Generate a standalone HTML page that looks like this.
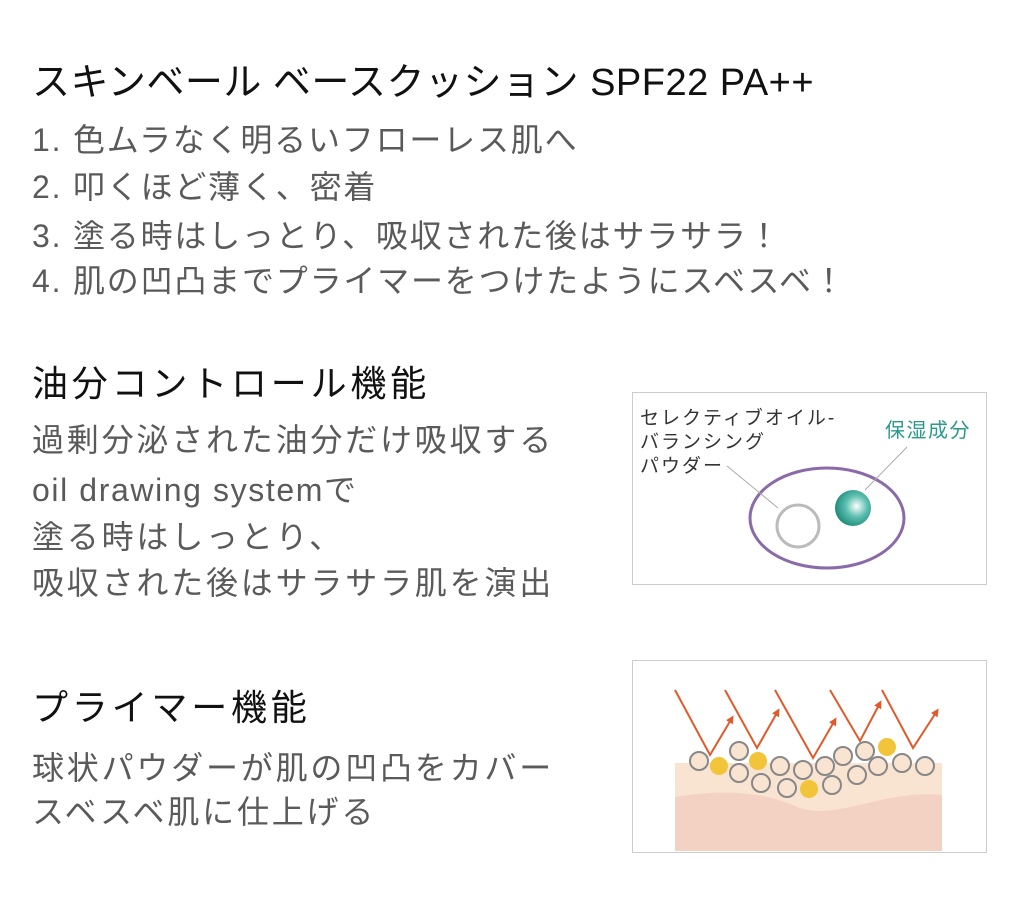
<!DOCTYPE html>
<html><head><meta charset="utf-8"><style>
body{margin:0;width:1024px;height:918px;background:#fff;position:relative;overflow:hidden;font-family:"Liberation Sans","Noto Sans CJK JP",sans-serif}
.t{position:absolute;white-space:nowrap;line-height:1}
.h{color:#111}
.g{color:#5a5a5a;font-size:32px;letter-spacing:1.8px}
</style></head><body>
<div class="t h" style="left:32px;top:64px;font-size:38px;letter-spacing:0.5px">スキンベール ベースクッション SPF22 PA++</div>
<div class="t g" style="left:32px;top:124px">1. 色ムラなく明るいフローレス肌へ</div>
<div class="t g" style="left:32px;top:171px">2. 叩くほど薄く、密着</div>
<div class="t g" style="left:32px;top:220px">3. 塗る時はしっとり、吸収された後はサラサラ！</div>
<div class="t g" style="left:32px;top:265px">4. 肌の凹凸までプライマーをつけたようにスベスベ！</div>

<div class="t h" style="left:32px;top:366px;font-size:36px;letter-spacing:3.8px">油分コントロール機能</div>
<div class="t g" style="left:32px;top:424px;letter-spacing:2.8px">過剰分泌された油分だけ吸収する</div>
<div class="t g" style="left:32px;top:474px;letter-spacing:1.6px">oil drawing systemで</div>
<div class="t g" style="left:32px;top:521px;letter-spacing:2.8px">塗る時はしっとり、</div>
<div class="t g" style="left:32px;top:567px;letter-spacing:2.8px">吸収された後はサラサラ肌を演出</div>

<div class="t h" style="left:32px;top:690px;font-size:36px;letter-spacing:3.8px">プライマー機能</div>
<div class="t g" style="left:32px;top:752px;letter-spacing:2.8px">球状パウダーが肌の凹凸をカバー</div>
<div class="t g" style="left:32px;top:796px;letter-spacing:2.8px">スベスベ肌に仕上げる</div>

<svg style="position:absolute;left:0;top:0" width="1024" height="918">
<defs>
<radialGradient id="tg" cx="0.6" cy="0.45" r="0.6"><stop offset="0" stop-color="#fff"/><stop offset="0.5" stop-color="#5cbfb0"/><stop offset="1" stop-color="#1f8c7c"/></radialGradient>
<marker id="ar" markerWidth="8" markerHeight="8" refX="5" refY="4" orient="auto" markerUnits="userSpaceOnUse"><path d="M0,0L8,4L0,8z" fill="#e05a2b"/></marker>
</defs>
<rect x="632.5" y="392.5" width="354" height="192" fill="#fff" stroke="#ccc"/>
<ellipse cx="827" cy="518" rx="77" ry="50" fill="none" stroke="#8a6aa8" stroke-width="3"/>
<circle cx="798" cy="526" r="21" fill="#fff" stroke="#bbb" stroke-width="3"/>
<circle cx="853" cy="508" r="18" fill="url(#tg)"/>
<line x1="727" y1="466" x2="778" y2="508" stroke="#aaa"/>
<line x1="907" y1="447" x2="865" y2="490" stroke="#aaa"/>
<g font-size="19" fill="#333" letter-spacing="2" font-family="Liberation Sans,Noto Sans CJK JP,sans-serif">
<text x="640" y="424">セレクティブオイル-</text>
<text x="640" y="448">バランシング</text>
<text x="640" y="472">パウダー</text>
</g>
<text x="885" y="437" font-size="20" letter-spacing="1.5" fill="#2a9a8a" font-family="Liberation Sans,Noto Sans CJK JP,sans-serif">保湿成分</text>

<rect x="632.5" y="660.5" width="354" height="192" fill="#fff" stroke="#ccc"/>
<rect x="675" y="763" width="267" height="88" fill="#f9e4d2"/>
<path d="M675,797 C720,790 760,790 800,808 C840,820 880,790 942,795 L942,851 L675,851z" fill="#f3d2c4"/>
<g fill="none" stroke="#e05a2b" stroke-width="2">
<polyline points="675,690 710,755 732,718" marker-end="url(#ar)"/>
<polyline points="725,690 757,748 778,711" marker-end="url(#ar)"/>
<polyline points="775,690 813,758 835,720" marker-end="url(#ar)"/>
<polyline points="830,690 860,741 880,703" marker-end="url(#ar)"/>
<polyline points="882,690 913,748 937,711" marker-end="url(#ar)"/>
</g>
<g fill="#f9e4d2" stroke="#888" stroke-width="2">
<circle cx="699" cy="761" r="9"/><circle cx="739" cy="751" r="9"/><circle cx="739" cy="773" r="9"/><circle cx="761" cy="783" r="9"/><circle cx="780" cy="766" r="9"/><circle cx="787" cy="788" r="9"/><circle cx="803" cy="770" r="9"/><circle cx="825" cy="766" r="9"/><circle cx="832" cy="785" r="9"/><circle cx="843" cy="756" r="9"/><circle cx="857" cy="775" r="9"/><circle cx="865" cy="751" r="9"/><circle cx="878" cy="766" r="9"/><circle cx="902" cy="763" r="9"/><circle cx="925" cy="766" r="9"/>
</g>
<g fill="#f2c43a">
<circle cx="719" cy="766" r="9"/><circle cx="758" cy="761" r="9"/><circle cx="809" cy="789" r="9"/><circle cx="887" cy="747" r="9"/>
</g>
</svg>
</body></html>
